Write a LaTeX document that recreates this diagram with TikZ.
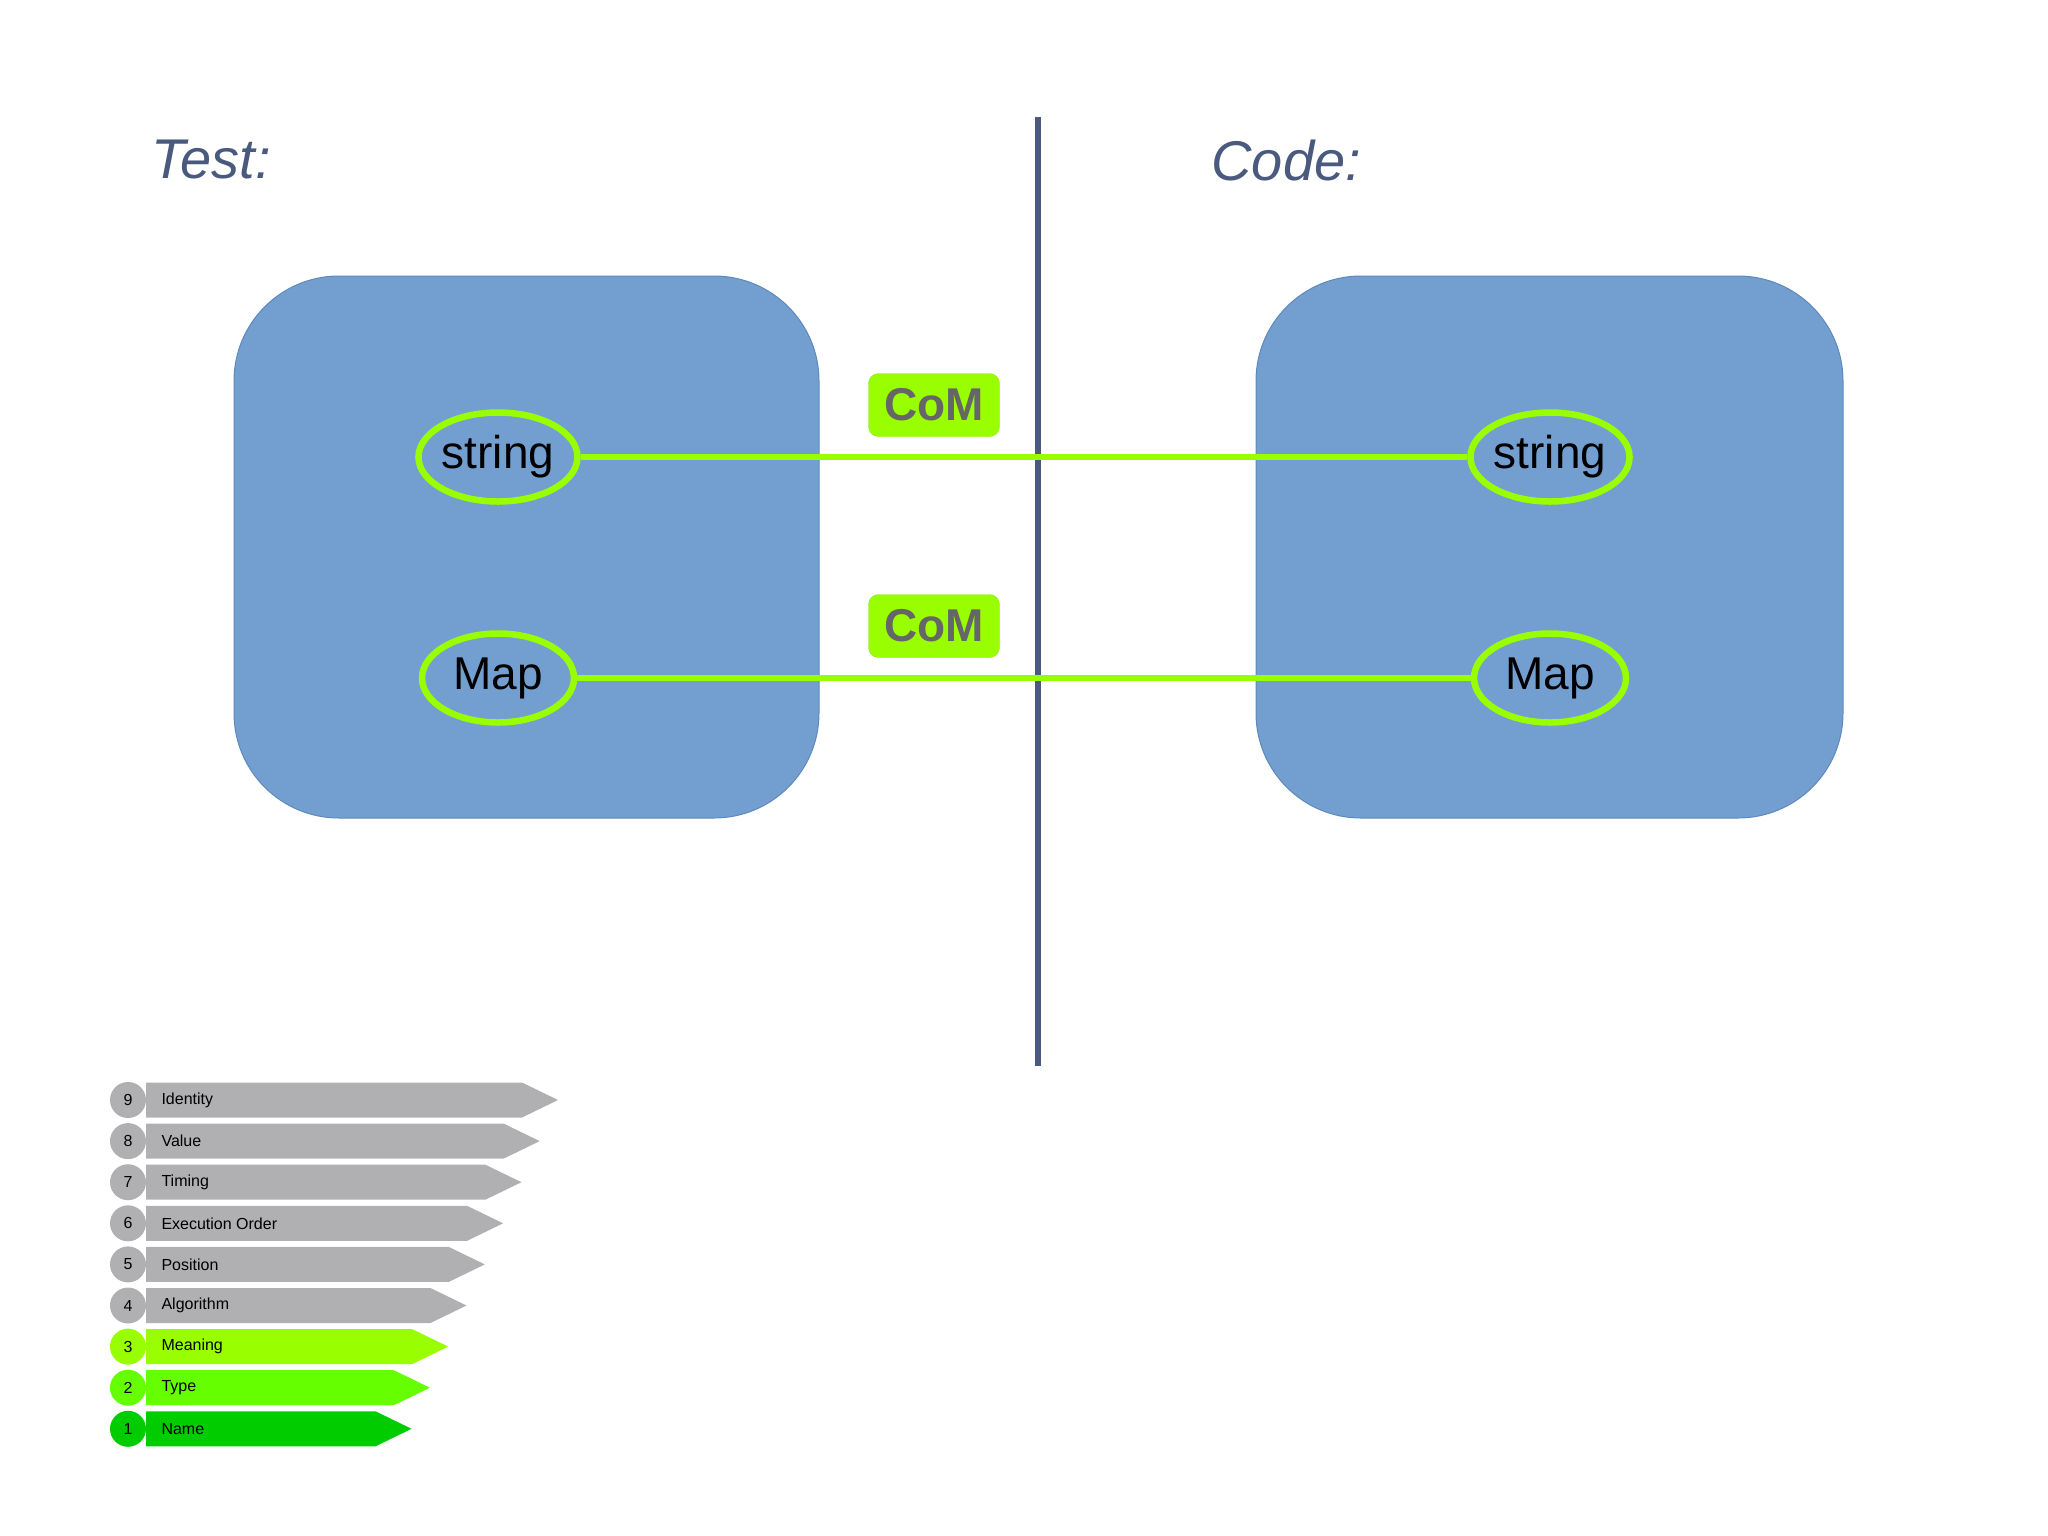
\documentclass[tikz,border=0pt]{standalone}
\usepackage{fontspec}
\setmainfont{Liberation Sans}
\usetikzlibrary{shapes.geometric,shapes.symbols}
\definecolor{slate}{HTML}{4A5A7E}
\definecolor{boxblue}{HTML}{729FCF}
\definecolor{boxedge}{HTML}{5D89BD}
\definecolor{lime}{HTML}{99FF00}
\definecolor{gmid}{HTML}{66FF00}
\definecolor{gdark}{HTML}{00CC00}
\definecolor{lgray}{HTML}{B0B0B2}
\begin{document}
\begin{tikzpicture}[x=1pt,y=-1pt,
  box/.style={fill=boxblue,draw=boxedge,line width=1pt,rounded corners=105pt},
  oval/.style={ellipse,draw=lime,line width=6.5pt,minimum width=152pt,minimum height=89pt,inner sep=0pt,font=\fontsize{46}{50}\selectfont},
  link/.style={draw=lime,line width=5.5pt},
  com/.style={fill=lime,draw=lime!80!gray,rounded corners=10pt,minimum width=131pt,minimum height=63pt,text=black!60,font=\bfseries\fontsize{46}{50}\selectfont,inner sep=0pt},
  title/.style={text=slate,font=\itshape\fontsize{56}{60}\selectfont,anchor=west},
  num/.style={circle,minimum size=36pt,inner sep=0pt,font=\fontsize{16}{18}\selectfont},
  lbl/.style={anchor=west,font=\fontsize{16}{18}\selectfont}]
\useasboundingbox (0,0) rectangle (2048,1535);
\draw[box] (234,276) rectangle (819,818);
\draw[box] (1256,276) rectangle (1843,818);
\draw[slate,line width=6pt] (1038,117) coordinate (vt) -- (1038,1066) coordinate (vb);
\node[title] (test) at (148,160) {Test:};
\node[title] (code) at (1208,160) {Code:};
\node[com] (c1) at (934,405) {CoM};
\node[com] (c2) at (934,626) {CoM};
\node[oval] (s1) at (498,457) {string};
\node[oval] (m1) at (498,678) {Map};
\node[oval] (s2) at (1550,457) {string};
\node[oval] (m2) at (1550,678) {Map};
\draw[link] (s1) -- (s2);
\draw[link] (m1) -- (m2);
\foreach \n/\t/\c [count=\i from 0] in {9/Identity/lgray,8/Value/lgray,7/Timing/lgray,6/Execution Order/lgray,5/Position/lgray,4/Algorithm/lgray,3/Meaning/lime,2/Type/gmid,1/Name/gdark}{
  \pgfmathsetmacro\yy{1100+41.1*\i}
  \pgfmathsetmacro\tip{558-18.3*\i}
  \fill[\c] (146,\yy-17.5) -- (\tip-36,\yy-17.5) -- (\tip,\yy) -- (\tip-36,\yy+17.5) -- (146,\yy+17.5) -- cycle;
  \node[num,fill=\c] (n\n) at (128,\yy) {\n};
  \node[lbl] (l\n) at (158,\yy) {\t};
}
\end{tikzpicture}
\end{document}
